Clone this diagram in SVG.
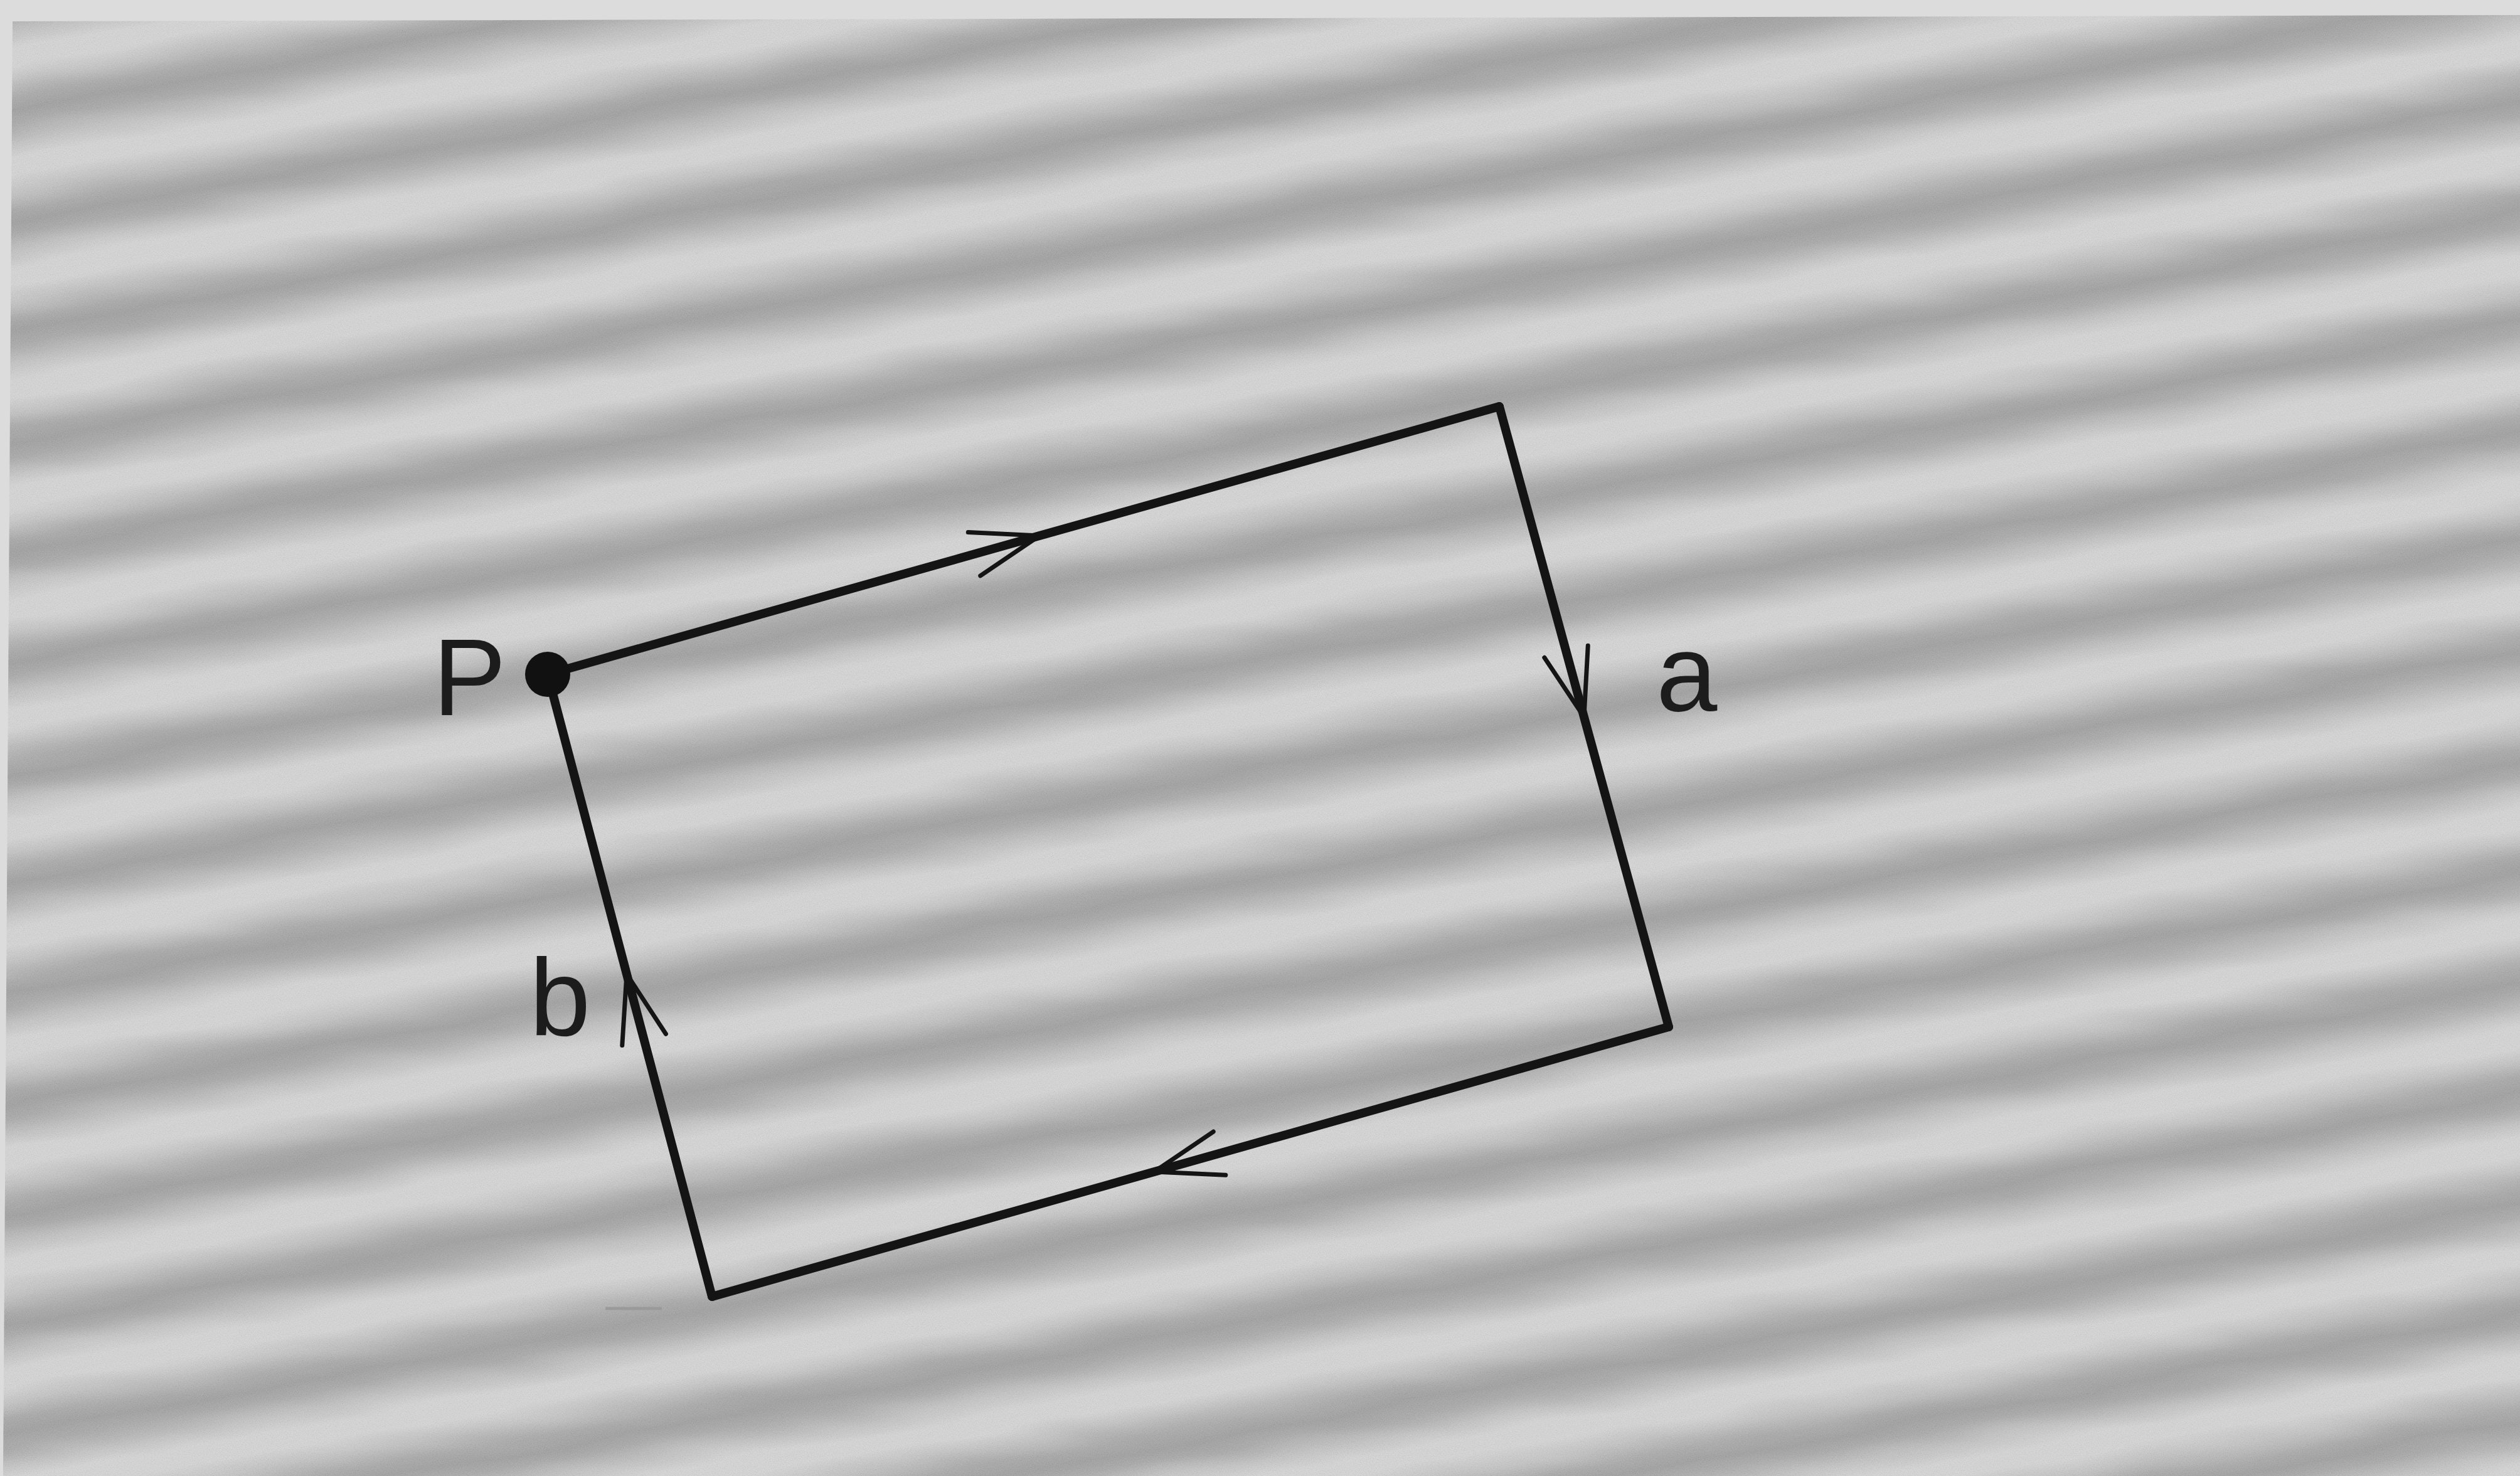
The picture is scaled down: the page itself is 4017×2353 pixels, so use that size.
<svg xmlns="http://www.w3.org/2000/svg" width="4017" height="2353" viewBox="0 0 4017 2353">
  <style>
    .edge { fill: none; stroke: #141414; stroke-width: 14; stroke-linejoin: round; stroke-linecap: round; marker-mid: url(#chev); }
    .lbl { font-family: "Liberation Sans", Arial, sans-serif; font-size: 175px; fill: #1c1c1c; }
  </style>
  <defs>
    <linearGradient id="band" x1="0" y1="0" x2="0" y2="1">
      <stop offset="0" stop-color="#9d9d9d"/>
      <stop offset="0.12" stop-color="#a8a8a8"/>
      <stop offset="0.28" stop-color="#c4c4c4"/>
      <stop offset="0.42" stop-color="#d7d7d7"/>
      <stop offset="0.58" stop-color="#d7d7d7"/>
      <stop offset="0.72" stop-color="#c4c4c4"/>
      <stop offset="0.88" stop-color="#a8a8a8"/>
      <stop offset="1" stop-color="#9d9d9d"/>
    </linearGradient>
    <pattern id="stripes" patternUnits="userSpaceOnUse" x="0" y="7.4" width="5000" height="172.7" patternTransform="rotate(-10.2)">
      <rect x="0" y="0" width="5000" height="172.7" fill="url(#band)"/>
    </pattern>
    <clipPath id="area">
      <polygon points="20,34 4017,24 4017,2353 5,2353"/>
    </clipPath>
    <filter id="wavy" x="0" y="0" width="1" height="1" filterUnits="objectBoundingBox">
      <feTurbulence type="fractalNoise" baseFrequency="0.004 0.02" numOctaves="2" seed="3" result="t"/>
      <feDisplacementMap in="SourceGraphic" in2="t" scale="22" xChannelSelector="R" yChannelSelector="G"/>
    </filter>
    <filter id="grain" x="0" y="0" width="1" height="1" filterUnits="objectBoundingBox">
      <feTurbulence type="fractalNoise" baseFrequency="0.7" numOctaves="2" seed="7"/>
      <feColorMatrix type="matrix" values="1 0 0 0 0  1 0 0 0 0  1 0 0 0 0  0 0 0 0 0.18"/>
    </filter>
    <marker id="chev" markerUnits="userSpaceOnUse" orient="auto" markerWidth="240" markerHeight="240" refX="0" refY="0" viewBox="-120 -120 240 240" overflow="visible">
      <path d="M -108,-36 L 0,0 L -108,36" fill="none" stroke="#141414" stroke-width="7" stroke-linecap="round" stroke-linejoin="round"/>
    </marker>
  </defs>

  <g id="background">
    <rect x="0" y="0" width="4017" height="2353" fill="#dcdcdc"/>
    <g clip-path="url(#area)">
      <rect x="-100" y="-100" width="4217" height="2553" fill="url(#stripes)" filter="url(#wavy)"/>
      <rect x="0" y="0" width="4017" height="2353" fill="#808080" filter="url(#grain)"/>
    </g>
    <line x1="965" y1="2086" x2="1055" y2="2086" stroke="#9a9a9a" stroke-width="5"/>
  </g>

  <g id="connectors">
    <path id="edge-top" class="edge" d="M 873,1075 L 1657,854 L 2390,648"/>
    <path id="edge-right" class="edge" d="M 2390,648 L 2525,1143 L 2660,1637"/>
    <path id="edge-bottom" class="edge" d="M 2660,1637 L 1840,1868 L 1135,2067"/>
    <path id="edge-left" class="edge" d="M 1135,2067 L 999,1553 L 873,1075"/>
  </g>

  <g id="node-P">
    <circle cx="873" cy="1075" r="36" fill="#111"/>
    <text class="lbl" x="690" y="1140">P</text>
  </g>
  <g id="label-a">
    <text class="lbl" x="2640" y="1133">a</text>
  </g>
  <g id="label-b">
    <text class="lbl" x="844" y="1650">b</text>
  </g>
</svg>
